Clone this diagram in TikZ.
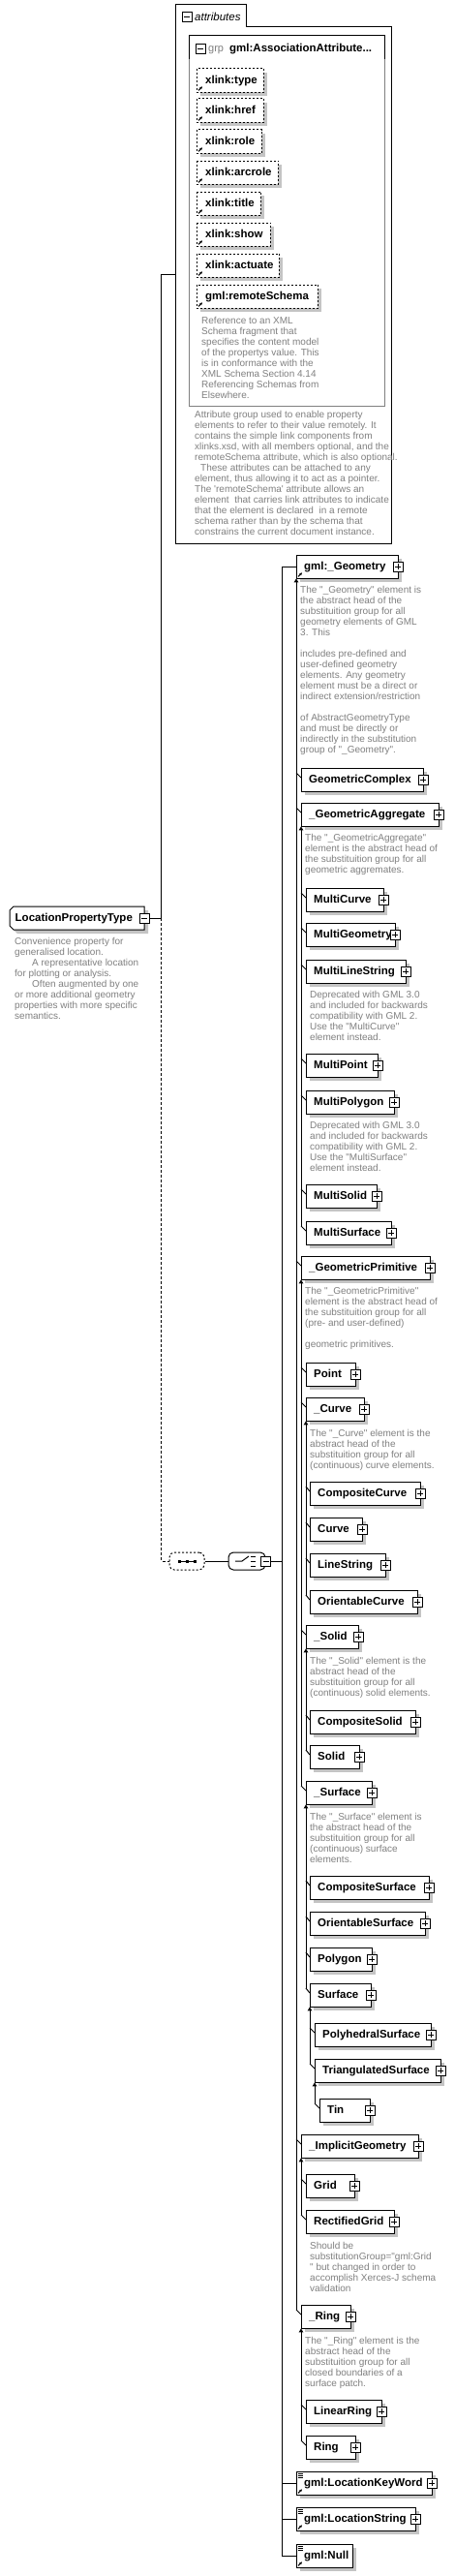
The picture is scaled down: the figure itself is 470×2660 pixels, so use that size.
\documentclass[tikz,border=0pt]{standalone}
\usepackage{fontspec}
\newfontfamily\lf{Liberation Sans}
\usetikzlibrary{calc,arrows.meta}
\definecolor{desc}{RGB}{128,128,128}
\definecolor{shad}{RGB}{196,196,196}
\newcommand\qq{\textquotedbl}
\newcommand\XShape[5]{\node[box,minimum width=#4pt] (#1) at (#2,#3) {};
 \fill[shad] ($(#1.north west)+(4,4)$) rectangle ($(#1.south east)+(4,4)$);
 \draw[line width=1pt,fill=white,#5] (#1.north west) rectangle (#1.south east);}
\newcommand\XBx[5]{\XShape{#1}{#2}{#3}{#4}{}
 \node[lbl] (#1-t) at ($(#1.north west)+(8,15.5)$) {#5};}
\newcommand\XEl[5]{\XBx{#1}{#2}{#3}{#4}{#5}\node[pbox] (#1-p) at (#1.east) {};}
\newcommand\XAtt[5]{\XShape{#1}{#2}{#3}{#4}{dash pattern=on 2pt off 2pt}
 \node[lbl] (#1-t) at ($(#1.north west)+(9,15.5)$) {#5};
 \draw[icon] ($(#1.south west)+(2,-2)$) -- ++(4,-4);}
\newcommand\XRefIc[1]{\draw[icon] ($(#1.south west)+(2,-2)$) -- ++(4,-4);}
\newcommand\XSmp[1]{\foreach \k in {2,4,6}{\draw[line width=0.7pt] ($(#1.north west)+(1.5,\k)$) -- ++(5,0);}}
\newcommand\XSub[2]{\draw[subst] (#1.south west) -- ($(#2.north west -| #1.west)+(0,5)$);}
\newcommand\XTk[2]{\draw[conn] ($(#2.north west -| #1.west)+(0,5)$) -- ($(#2.north west)+(0,10)$);}
\begin{document}
\begin{tikzpicture}[x=1pt,y=-1pt,
 box/.style={minimum height=24pt,inner sep=0pt,anchor=north west},
 lbl/.style={anchor=base west,inner sep=0pt,font=\lf\bfseries\fontsize{11.5}{13}\selectfont},
 dsc/.style={anchor=north west,inner sep=0pt,align=left,text=desc,font=\lf\fontsize{10}{11}\selectfont},
 pbox/.style={draw,fill=white,line width=0.8pt,minimum size=10pt,inner sep=0pt,
   path picture={\draw[line width=0.8pt] ($(path picture bounding box.west)+(2,0)$) -- ($(path picture bounding box.east)+(-2,0)$)
     ($(path picture bounding box.north)+(0,2)$) -- ($(path picture bounding box.south)+(0,-2)$);}},
 mbox/.style={draw,fill=white,line width=0.8pt,minimum size=10pt,inner sep=0pt,
   path picture={\draw[line width=0.8pt] ($(path picture bounding box.west)+(2,0)$) -- ($(path picture bounding box.east)+(-2,0)$);}},
 conn/.style={line width=1pt},
 dconn/.style={line width=1pt,dash pattern=on 3pt off 2pt},
 subst/.style={line width=1pt,{Triangle[length=4pt,width=4.5pt]}-},
 icon/.style={line width=1pt,-{Stealth[length=3pt,width=3pt]}},
 comp/.style={draw,line width=1pt,fill=white,rounded corners=5pt,minimum height=18pt,inner sep=0pt}
]
\useasboundingbox (0,0) rectangle (470,2660);
\fill[white] (0,0) rectangle (470,2660);

% ---------- attributes container ----------
\draw[line width=1pt] (181,561) -- (181,5) -- (254,5) -- (254,28) -- (404,28) -- (404,561) -- cycle;
\node[mbox] (attr-m) at (193,17.5) {};
\node[anchor=base west,inner sep=0pt,font=\lf\itshape\fontsize{11.5}{13}\selectfont] (attr-t) at (201,21.5) {attributes};
\draw[line width=1pt,desc] (195,37) rectangle (397,419);
\draw[line width=1pt] (195,61) -- (195,37) -- (397,37) -- (397,61);
\node[mbox] (grp-m) at (207,50) {};
\node[anchor=base west,inner sep=0pt,text=desc,font=\lf\fontsize{11}{13}\selectfont] (grp-k) at (215,54) {grp};
\node[lbl] (grp-t) at (237,54) {gml:AssociationAttribute...};

\XAtt{at1}{203}{71}{69}{xlink:type}
\XAtt{at2}{203}{102}{69}{xlink:href}
\XAtt{at3}{203}{134}{67}{xlink:role}
\XAtt{at4}{203}{166}{84}{xlink:arcrole}
\XAtt{at5}{203}{198}{66}{xlink:title}
\XAtt{at6}{203}{230}{76}{xlink:show}
\XAtt{at7}{203}{262}{85}{xlink:actuate}
\XAtt{at8}{203}{294}{125}{gml:remoteSchema}

\node[dsc] (d-at8) at (208,326.8) {\strut Reference to an XML\\Schema fragment that\\specifies the content model\\of the propertys value. This\\is in conformance with the\\XML Schema Section 4.14\\Referencing Schemas from\\Elsewhere.};
\node[dsc] (d-grp) at (201,423.8) {\strut Attribute group used to enable property\\elements to refer to their value remotely. It\\contains the simple link components from\\xlinks.xsd, with all members optional, and the\\remoteSchema attribute, which is also optional.\\\hspace*{6pt}These attributes can be attached to any\\element, thus allowing it to act as a pointer.\\The \textquotesingle remoteSchema\textquotesingle{} attribute allows an\\element~ that carries link attributes to indicate\\that the element is declared~ in a remote\\schema rather than by the schema that\\constrains the current document instance.};

% ---------- LocationPropertyType ----------
\node[box,minimum width=139pt] (lpt) at (10,936) {};
\fill[shad] (18,940) -- (153,940) -- (153,964) -- (18,964) -- (14,960) -- (14,944) -- cycle;
\draw[line width=1pt,fill=white] (14,936) -- (149,936) -- (149,960) -- (14,960) -- (10,956) -- (10,940) -- cycle;
\node[lbl] (lpt-t) at (15.5,951) {LocationPropertyType};
\node[mbox] (lpt-p) at (lpt.east) {};
\node[dsc] (d-lpt) at (15,967.8) {\strut Convenience property for\\generalised location.\\\hspace*{18pt}A representative location\\for plotting or analysis.\\\hspace*{18pt}Often augmented by one\\or more additional geometry\\properties with more specific\\semantics.};

% ---------- compositors ----------
\node[comp,dash pattern=on 2pt off 2pt,minimum width=36pt] (seq) at (193,1612) {};
\draw[line width=1pt] ($(seq.center)+(-8,0)$) -- ($(seq.center)+(8,0)$);
\foreach \k in {-8,0,8}{\fill ($(seq.center)+(\k-1.5,-1.5)$) rectangle ++(3,3);}
\node[comp,minimum width=38pt] (cho) at (255,1612) {};
\draw[line width=1pt] ($(cho.center)+(-12,0)$) -- ($(cho.center)+(-5,0)$) -- ($(cho.center)+(2,-5)$);
\draw[line width=1pt] ($(cho.center)+(4,-5)$) -- ($(cho.center)+(9,-5)$)
  ($(cho.center)+(4,0)$) -- ($(cho.center)+(9,0)$)
  ($(cho.center)+(4,5)$) -- ($(cho.center)+(9,5)$);
\node[mbox] (cho-m) at (cho.east) {};

% ---------- right column ----------
\XEl{geom}{306}{573}{105}{gml:\_Geometry}
\XRefIc{geom}
\node[dsc] (d-geom) at (310,604.8) {\strut The \qq{}\_Geometry\qq{} element is\\the abstract head of the\\substituition group for all\\geometry elements of GML\\3. This\\[11pt]includes pre-defined and\\user-defined geometry\\elements. Any geometry\\element must be a direct or\\indirect extension/restriction\\[11pt]of AbstractGeometryType\\and must be directly or\\indirectly in the substitution\\group of \qq{}\_Geometry\qq{}.};
\XEl{gcx}{311}{793}{126}{GeometricComplex}
\XEl{gag}{311}{829}{142}{\_GeometricAggregate}
\node[dsc] (d-gag) at (315,860.8) {\strut The \qq{}\_GeometricAggregate\qq{}\\element is the abstract head of\\the substituition group for all\\geometric aggremates.};
\XEl{mcu}{316}{917}{80}{MultiCurve}
\XEl{mge}{316}{953}{92}{MultiGeometry}
\XEl{mls}{316}{991}{103}{MultiLineString}
\node[dsc] (d-mls) at (320,1022.8) {\strut Deprecated with GML 3.0\\and included for backwards\\compatibility with GML 2.\\Use the \qq{}MultiCurve\qq{}\\element instead.};
\XEl{mpt}{316}{1088}{74}{MultiPoint}
\XEl{mpg}{316}{1126}{91}{MultiPolygon}
\node[dsc] (d-mpg) at (320,1157.8) {\strut Deprecated with GML 3.0\\and included for backwards\\compatibility with GML 2.\\Use the \qq{}MultiSurface\qq{}\\element instead.};
\XEl{mso}{316}{1223}{73}{MultiSolid}
\XEl{msu}{316}{1261}{88}{MultiSurface}
\XEl{gpr}{311}{1297}{133}{\_GeometricPrimitive}
\node[dsc] (d-gpr) at (315,1328.8) {\strut The \qq{}\_GeometricPrimitive\qq{}\\element is the abstract head of\\the substituition group for all\\(pre- and user-defined)\\[11pt]geometric primitives.};
\XEl{pnt}{316}{1407}{51}{Point}
\XEl{cur}{316}{1443}{60}{\_Curve}
\node[dsc] (d-cur) at (320,1475.8) {\strut The \qq{}\_Curve\qq{} element is the\\abstract head of the\\substituition group for all\\(continuous) curve elements.};
\XEl{ccu}{320}{1530}{114}{CompositeCurve}
\XEl{crv}{320}{1567}{54}{Curve}
\XEl{lst}{320}{1604}{78}{LineString}
\XEl{ocu}{320}{1642}{111}{OrientableCurve}
\XEl{sol}{316}{1678}{54}{\_Solid}
\node[dsc] (d-sol) at (320,1710.8) {\strut The \qq{}\_Solid\qq{} element is the\\abstract head of the\\substituition group for all\\(continuous) solid elements.};
\XEl{cso}{320}{1766}{109}{CompositeSolid}
\XEl{sld}{320}{1802}{51}{Solid}
\XEl{sur}{316}{1839}{68}{\_Surface}
\node[dsc] (d-sur) at (320,1871.8) {\strut The \qq{}\_Surface\qq{} element is\\the abstract head of the\\substituition group for all\\(continuous) surface\\elements.};
\XEl{csu}{320}{1937}{123}{CompositeSurface}
\XEl{osu}{320}{1974}{119}{OrientableSurface}
\XEl{pol}{320}{2011}{64}{Polygon}
\XEl{srf}{320}{2048}{63}{Surface}
\XEl{phs}{325}{2089}{120}{PolyhedralSurface}
\XEl{tsu}{325}{2126}{130}{TriangulatedSurface}
\XEl{tin}{330}{2167}{52}{Tin}
\XEl{img}{311}{2204}{121}{\_ImplicitGeometry}
\XEl{grd}{316}{2245}{50}{Grid}
\XEl{rgr}{316}{2282}{91}{RectifiedGrid}
\node[dsc] (d-rgr) at (320,2314.8) {\strut Should be\\substitutionGroup=\qq{}gml:Grid\\\qq{} but changed in order to\\accomplish Xerces-J schema\\validation};
\XEl{rng}{311}{2380}{51}{\_Ring}
\node[dsc] (d-rng) at (315,2412.8) {\strut The \qq{}\_Ring\qq{} element is the\\abstract head of the\\substituition group for all\\closed boundaries of a\\surface patch.};
\XEl{lrg}{316}{2478}{78}{LinearRing}
\XEl{ring}{316}{2515}{51}{Ring}
\XEl{lkw}{306}{2552}{140}{gml:LocationKeyWord}
\XRefIc{lkw}\XSmp{lkw}
\XEl{lsg}{306}{2589}{123}{gml:LocationString}
\XRefIc{lsg}\XSmp{lsg}
\XBx{nul}{306}{2627}{58}{gml:Null}
\XRefIc{nul}\XSmp{nul}

% ---------- connectors ----------
\coordinate (attrin) at (181,283);
\draw[conn] (lpt-p.east) -- ++(12,0) coordinate (lj);
\draw[conn] (attrin) -| (lj);
\draw[dconn] (lj) |- (seq.west);
\draw[conn] (seq.east) -- (cho.west);
\draw[conn] (cho-m.east) -- ++(12,0) coordinate (mj);
\draw[conn] (geom.west) -| (mj) |- (nul.west);
\draw[conn] (lkw.west) -- (lkw.west -| mj);
\draw[conn] (lsg.west) -- (lsg.west -| mj);

% substitution groups
\XSub{geom}{rng}
\foreach \c in {gcx,gag,gpr,img,rng}{\XTk{geom}{\c}}
\XSub{gag}{msu}
\foreach \c in {mcu,mge,mls,mpt,mpg,mso,msu}{\XTk{gag}{\c}}
\XSub{gpr}{sur}
\foreach \c in {pnt,cur,sol,sur}{\XTk{gpr}{\c}}
\XSub{cur}{ocu}
\foreach \c in {ccu,crv,lst,ocu}{\XTk{cur}{\c}}
\XSub{sol}{sld}
\foreach \c in {cso,sld}{\XTk{sol}{\c}}
\XSub{sur}{srf}
\foreach \c in {csu,osu,pol,srf}{\XTk{sur}{\c}}
\XSub{srf}{tsu}
\foreach \c in {phs,tsu}{\XTk{srf}{\c}}
\XSub{tsu}{tin}
\XTk{tsu}{tin}
\XSub{img}{rgr}
\foreach \c in {grd,rgr}{\XTk{img}{\c}}
\XSub{rng}{ring}
\foreach \c in {lrg,ring}{\XTk{rng}{\c}}
\end{tikzpicture}
\end{document}
